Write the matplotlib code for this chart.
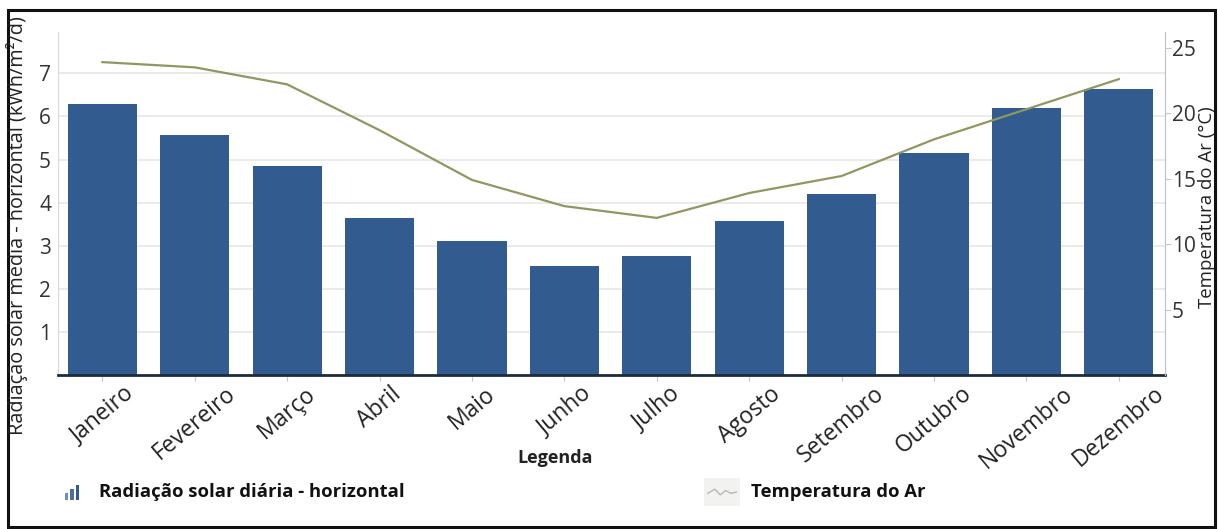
import matplotlib
matplotlib.use("Agg")
import matplotlib.pyplot as plt
import matplotlib.transforms as mtransforms
from matplotlib.patches import Rectangle
import numpy as np

meses = ["Janeiro", "Fevereiro", "Março", "Abril", "Maio", "Junho",
         "Julho", "Agosto", "Setembro", "Outubro", "Novembro", "Dezembro"]
radiacao = [6.29, 5.57, 4.85, 3.64, 3.11, 2.53, 2.76, 3.57, 4.20, 5.15, 6.19, 6.63]
temperatura = [23.9, 23.5, 22.2, 18.7, 14.9, 12.9, 12.0, 13.9, 15.2, 18.0, 20.3, 22.6]
ticks_rad = [1, 2, 3, 4, 5, 6, 7]
ticks_temp = [5, 10, 15, 20, 25]

azul = "#325b8f"
oliva = "#8e9860"
cinza = "#d9d9d9"
fonte = ["Open Sans", "DejaVu Sans"]
fonte_leg = ["Liberation Sans Narrow", "Open Sans", "DejaVu Sans"]

W, H = 1218, 529
fig = plt.figure(figsize=(W / 100, H / 100), dpi=100)
ax = fig.add_axes([58 / W, 1 - 375 / H, (1165 - 58) / W, (375 - 32) / H])

x = np.arange(len(meses))
ax.bar(x, radiacao, width=0.75, color=azul, zorder=2)
ax.set_xlim(-0.48, 11.5)
ax.set_ylim(0, 7.96)
ax.set_yticks(ticks_rad)
ax.grid(axis="y", color="#e8e8e8", lw=1.2, zorder=0)
ax.set_xticks(x)
ax.set_xticklabels(meses, rotation=40, ha="center", fontsize=16.5,
                   family=fonte, color="#222222")
# nudge the month names a little to the right
desloc = mtransforms.ScaledTranslation(7 / 100, -2 / 100, fig.dpi_scale_trans)
for lab in ax.get_xticklabels():
    lab.set_transform(lab.get_transform() + desloc)
ax.tick_params(axis="x", length=4, color="#c8c8c8", pad=1)
ax.tick_params(axis="y", length=0, labelsize=15, pad=5, labelcolor="#333333")
for lab in ax.get_yticklabels():
    lab.set_family(fonte)
ax.spines["top"].set_visible(False)
ax.spines["right"].set_visible(False)
ax.spines["left"].set_color(cinza)
ax.spines["bottom"].set_color("#1d2b3c")
ax.spines["bottom"].set_linewidth(2)

ax2 = ax.twinx()
ax2.plot(x, temperatura, color=oliva, lw=1.6, zorder=3)
ax2.set_ylim(0, 26.2)
ax2.set_yticks(ticks_temp)
ax2.tick_params(axis="y", length=4, color="#c8c8c8", labelsize=15, pad=1,
                labelcolor="#333333")
for lab in ax2.get_yticklabels():
    lab.set_family(fonte)
for s in ["top", "left", "bottom"]:
    ax2.spines[s].set_visible(False)
ax2.spines["right"].set_color("#bfbfbf")

# axis titles
fig.text(17 / W, 1 - 226 / H, "Radiação solar média - horizontal (kWh/m²/d)",
         rotation=90, ha="center", va="center", fontsize=14.3, family=fonte,
         color="#222222")
fig.text(1207 / W, 1 - 207 / H, "Temperatura do Ar (°C)",
         rotation=90, ha="center", va="center", fontsize=13.4, family=fonte,
         color="#222222")

# legend block
fig.text(555 / W, 1 - 458 / H, "Legenda", ha="center", va="center",
         fontsize=13, weight="bold", family=fonte_leg, color="#222222")
fig.text(99 / W, 1 - 492 / H, "Radiação solar diária - horizontal",
         ha="left", va="center", fontsize=13.3, weight="bold", family=fonte_leg,
         color="#111111")
fig.text(751 / W, 1 - 492 / H, "Temperatura do Ar",
         ha="left", va="center", fontsize=13.3, weight="bold", family=fonte_leg,
         color="#111111")

# small icons next to the legend entries
ic1 = fig.add_axes([64 / W, 1 - 500 / H, 16 / W, 16 / H])
ic1.bar([0, 1, 2], [0.45, 0.7, 1.0], width=0.65, color=["#6f8fb8", "#4a6fa0", azul])
ic1.set_xlim(-0.5, 2.5)
ic1.set_ylim(0, 1.05)
ic1.axis("off")

ic2 = fig.add_axes([704 / W, 1 - 506 / H, 36 / W, 28 / H])
ic2.add_patch(Rectangle((0, 0), 1, 1, color="#f2f2f0", transform=ic2.transAxes))
ic2.plot([0.1, 0.3, 0.45, 0.6, 0.75, 0.9], [0.45, 0.6, 0.4, 0.55, 0.45, 0.5],
         color="#b8b8b0", lw=1)
ic2.set_xlim(0, 1)
ic2.set_ylim(0, 1)
ic2.axis("off")

# frame around the whole figure
fig.patches.append(Rectangle((8 / W, 2 / H), 1207 / W, 1 - 12 / H,
                             transform=fig.transFigure, fill=False,
                             edgecolor="#111111", lw=2.2))

fig.savefig("out.png", dpi=100)
